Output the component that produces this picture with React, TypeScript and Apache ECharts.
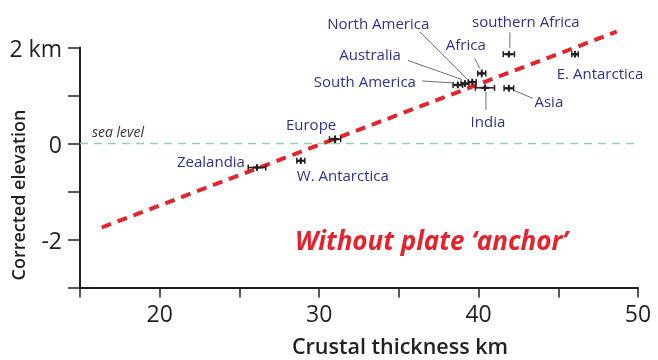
import React, { useEffect, useRef } from "react";
import * as echarts from "echarts";

// ---- data ----
const names = [
  "North America",
  "southern Africa",
  "Africa",
  "Australia",
  "South America",
  "E. Antarctica",
  "Asia",
  "India",
  "Europe",
  "Zealandia",
  "W. Antarctica",
];
const thickness = [39.6, 41.9, 40.2, 39.15, 38.7, 46.05, 41.9, 40.4, 31.0, 26.1, 28.85];
const elevation = [1.28, 1.86, 1.46, 1.25, 1.22, 1.86, 1.15, 1.16, 0.09, -0.5, -0.36];
const thicknessErr = [0.25, 0.35, 0.25, 0.25, 0.3, 0.2, 0.3, 0.6, 0.35, 0.55, 0.25];
const elevationErr = [0.07, 0.07, 0.08, 0.07, 0.07, 0.07, 0.07, 0.07, 0.08, 0.07, 0.07];

const trendX = [16.36, 48.67];
const trendY = [-1.75, 2.33];
const seaLevelX = [15, 50];
const seaLevelY = [0, 0];

const xTicks = [15, 20, 25, 30, 35, 40, 45, 50];
const xTickLabels = ["", "20", "", "30", "", "40", "", "50"];
const yTicks = [-3, -2, -1, 0, 1, 2];
const yTickLabels = ["", "-2", "", "0", "", "2 km"];

// label placement (pixel offsets from the point): [dx, dy], leader [x1, y1, x2, y2]
const labelOffset: number[][] = [
  [-94, -59],
  [17, -33],
  [-16, -29],
  [-95, -30],
  [-93, -4],
  [25, 19],
  [40, 13],
  [3, 33],
  [-24, -15],
  [-46, -7],
  [42, 14],
];
const leader: (number[] | null)[] = [
  [-52, -50, -4, -2],
  [1, -22, 1, -6],
  [-7, -15, -2, -5],
  [-57, -23, -3, -4],
  [-36, -4, -5, -2],
  null,
  [5, 2, 24, 10],
  [1, 4, 1, 22],
  null,
  null,
  null,
];

const INK = "#231f20";
const BLUE = "#2e3192";
const FONT = "'Open Sans', 'Noto Sans', sans-serif";

export default function App() {
  const ref = useRef<HTMLDivElement>(null);
  useEffect(() => {
    if (!ref.current) return;
    const chart = echarts.init(ref.current, undefined, { renderer: "svg" });

    const pointData = names.map((n, i) => ({
      name: n,
      value: [thickness[i], elevation[i], thicknessErr[i], elevationErr[i], i],
    }));

    const renderItem = (params: any, api: any) => {
      const x = api.value(0);
      const y = api.value(1);
      const xe = api.value(2);
      const ye = api.value(3);
      const idx = api.value(4);
      const c = api.coord([x, y]);
      const l = api.coord([x - xe, y]);
      const r = api.coord([x + xe, y]);
      const t = api.coord([x, y + ye]);
      const b = api.coord([x, y - ye]);
      const ls = { stroke: INK, lineWidth: 1.5 };
      const children: any[] = [
        { type: "line", shape: { x1: l[0], y1: l[1], x2: r[0], y2: r[1] }, style: ls },
        { type: "line", shape: { x1: l[0], y1: l[1] - 3, x2: l[0], y2: l[1] + 3 }, style: ls },
        { type: "line", shape: { x1: r[0], y1: r[1] - 3, x2: r[0], y2: r[1] + 3 }, style: ls },
        { type: "line", shape: { x1: t[0], y1: t[1], x2: b[0], y2: b[1] }, style: { stroke: INK, lineWidth: 2 } },
        { type: "line", shape: { x1: c[0] - 4, y1: c[1], x2: c[0] + 4, y2: c[1] }, style: { stroke: INK, lineWidth: 2.2 } },
        { type: "circle", shape: { cx: c[0], cy: c[1], r: 1.8 }, style: { fill: INK } },
      ];
      const off = labelOffset[idx];
      const ld = leader[idx];
      if (ld) {
        children.push({
          type: "line",
          shape: { x1: c[0] + ld[0], y1: c[1] + ld[1], x2: c[0] + ld[2], y2: c[1] + ld[3] },
          style: { stroke: "#6d6e71", lineWidth: 1 },
        });
      }
      children.push({
        type: "text",
        x: c[0] + off[0],
        y: c[1] + off[1],
        style: {
          text: names[idx],
          fill: BLUE,
          font: `15px ${FONT}`,
          textAlign: "center",
          textVerticalAlign: "middle",
        },
      });
      return { type: "group", children };
    };

    const option: any = {
      animation: false,
      grid: { left: 80, right: 20, top: 47.5, bottom: 72.5, containLabel: false, outerBoundsMode: "none" },
      xAxis: {
        type: "value",
        min: 15,
        max: 50,
        interval: 5,
        axisLine: { show: true, onZero: false, lineStyle: { color: INK, width: 2 } },
        axisTick: { show: true, length: 10, lineStyle: { color: INK, width: 1.5 } },
        axisLabel: {
          color: INK,
          fontSize: 23,
          fontFamily: FONT,
          margin: 14,
          formatter: (v: number) => {
            const i = xTicks.indexOf(v);
            return i >= 0 ? xTickLabels[i] : "";
          },
        },
        splitLine: { show: false },
      },
      yAxis: {
        type: "value",
        min: -3,
        max: 2,
        interval: 1,
        axisLine: { show: true, onZero: false, lineStyle: { color: INK, width: 2 } },
        axisTick: { show: true, length: 12, lineStyle: { color: INK, width: 1.5 } },
        axisLabel: {
          color: INK,
          fontSize: 23,
          fontFamily: FONT,
          margin: 18,
          formatter: (v: number) => {
            const i = yTicks.indexOf(v);
            return i >= 0 ? yTickLabels[i] : "";
          },
        },
        splitLine: { show: false },
      },
      series: [
        {
          type: "line",
          data: seaLevelX.map((x, i) => [x, seaLevelY[i]]),
          symbol: "none",
          lineStyle: { color: "#92d1ab", width: 1.5, type: [8, 6] },
          z: 1,
        },
        {
          type: "custom",
          renderItem,
          data: pointData,
          clip: false,
          z: 3,
        },
        {
          type: "line",
          data: trendX.map((x, i) => [x, trendY[i]]),
          symbol: "none",
          clip: false,
          lineStyle: { color: "#e5232a", width: 4, type: [10, 7] },
          z: 2,
        },
      ],
      graphic: [
        {
          type: "text",
          x: 17.5,
          y: 195,
          rotation: Math.PI / 2,
          style: {
            text: "Corrected elevation",
            fill: INK,
            font: `600 18px ${FONT}`,
            textAlign: "center",
            textVerticalAlign: "middle",
          },
        },
        {
          type: "text",
          x: 400,
          y: 345,
          style: {
            text: "Crustal thickness km",
            fill: INK,
            font: `600 21.5px ${FONT}`,
            textAlign: "center",
            textVerticalAlign: "middle",
          },
        },
        {
          type: "text",
          left: 92,
          top: 124,
          style: { text: "sea level", fill: "#333333", font: `italic 14px ${FONT}` },
        },
        {
          type: "text",
          left: 295,
          top: 227,
          style: {
            text: "Without plate \u2018anchor\u2019",
            fill: "#e5232a",
            font: `italic bold 26px ${FONT}`,
          },
        },
      ],
    };
    chart.setOption(option);
    return () => chart.dispose();
  }, []);
  return <div ref={ref} style={{ width: 658, height: 360, position: "fixed", left: 0, top: 0 }} />;
}
